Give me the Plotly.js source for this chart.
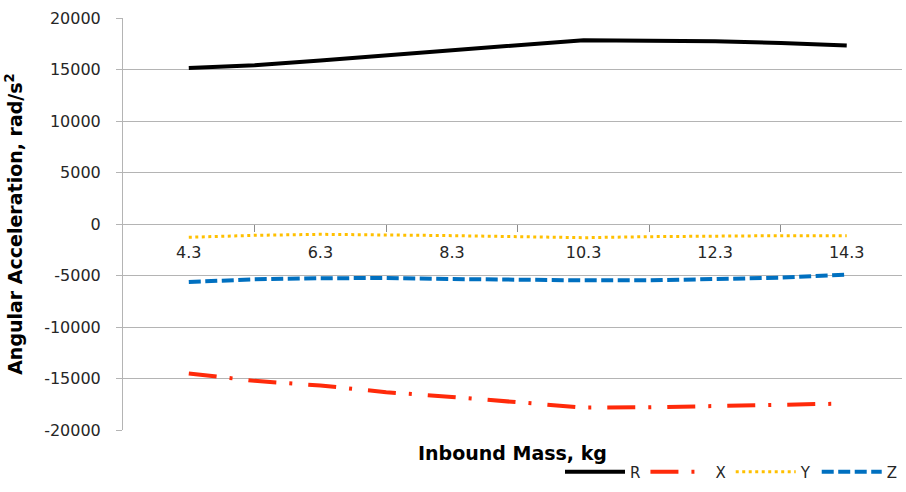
<!DOCTYPE html>
<html>
<head>
<meta charset="utf-8">
<script src="https://cdn.plot.ly/plotly-3.0.1.min.js"></script>
<style>
  html, body { margin: 0; padding: 0; background: #ffffff; }
  #chart { width: 906px; height: 492px; }
</style>
</head>
<body>
<div id="chart"></div>
<script>
// Inbound mass categories (kg)
const massKg = [4.3, 5.3, 6.3, 7.3, 8.3, 9.3, 10.3, 11.3, 12.3, 13.3, 14.3];
// Angular acceleration series (rad/s^2)
const seriesR = [15150, 15420, 15870, 16360, 16870, 17320, 17850, 17780, 17750, 17580, 17330];
const seriesX = [-14510, -15230, -15680, -16330, -16790, -17330, -17820, -17790, -17660, -17500, -17430];
const seriesY = [-1290, -1100, -1000, -1030, -1130, -1230, -1330, -1230, -1165, -1130, -1130];
const seriesZ = [-5630, -5370, -5270, -5240, -5340, -5440, -5470, -5470, -5370, -5210, -4920];
// Axis tick labels
const xLabelVals = [4.3, 6.3, 8.3, 10.3, 12.3, 14.3];
const xTickMarkVals = [5.3, 7.3, 9.3, 11.3, 13.3];
const yTickVals = [20000, 15000, 10000, 5000, 0, -5000, -10000, -15000, -20000];
const yTickText = ["20000", "15000", "10000", "5000", "0", "-5000", "-10000", "-15000", "-20000"];

const FONT = "DejaVu Sans";
const GRID = "#b4b4b4";

const traces = [
  { name: "R", x: massKg, y: seriesR, mode: "lines",
    line: { color: "#000000", width: 4 } },
  { name: "X", x: massKg, y: seriesX, mode: "lines",
    line: { color: "#ff2a0a", width: 4, dash: "28px,13px,3px,16px" } },
  { name: "Y", x: massKg, y: seriesY, mode: "lines",
    line: { color: "#ffc000", width: 3, dash: "3px,3.5px" } },
  { name: "Z", x: massKg, y: seriesZ, mode: "lines",
    line: { color: "#0070c0", width: 4, dash: "12px,4.5px" } }
];

const layout = {
  width: 906, height: 492,
  margin: { l: 123, r: 4, t: 18, b: 62 },
  paper_bgcolor: "#ffffff", plot_bgcolor: "#ffffff",
  font: { family: FONT, size: 16, color: "#262626" },
  showlegend: true,
  legend: { orientation: "h", x: 1.0, xanchor: "right", y: -0.102, yanchor: "middle",
            itemwidth: 60,
            font: { family: FONT, size: 15, color: "#262626" }, traceorder: "normal",
            bgcolor: "rgba(0,0,0,0)" },
  xaxis: {
    range: [3.3, 15.14],
    anchor: "free", position: 0.5,
    tickmode: "array", tickvals: xLabelVals, ticktext: xLabelVals.map(v => v.toFixed(1)),
    ticks: "", ticklabelstandoff: 14,
    showgrid: false, zeroline: false, showline: true, linecolor: GRID, linewidth: 1,
    minor: { tickmode: "array", tickvals: xTickMarkVals, ticks: "outside", ticklen: 7,
             tickcolor: "#8c8c8c", tickwidth: 1, showgrid: false },
    tickfont: { family: FONT, size: 16, color: "#262626" }
  },
  yaxis: {
    range: [-20000, 20000],
    tickmode: "array", tickvals: yTickVals, ticktext: yTickText,
    ticks: "outside", ticklen: 6, tickcolor: GRID, ticklabelstandoff: 12,
    showgrid: true, gridcolor: GRID, gridwidth: 1,
    zeroline: false, showline: true, linecolor: GRID, linewidth: 1,
    tickfont: { family: FONT, size: 16, color: "#262626" },
    title: { text: "<b>Angular Acceleration, rad/s<sup>2</sup></b>", standoff: 16,
             font: { family: FONT, size: 19, color: "#000000" } }
  },
  annotations: [
    { text: "<b>Inbound Mass, kg</b>", xref: "paper", yref: "paper", x: 0.5, y: -0.056,
      xanchor: "center", yanchor: "middle", showarrow: false,
      font: { family: FONT, size: 19, color: "#000000" } }
  ]
};

Plotly.newPlot("chart", traces, layout, { staticPlot: true, displayModeBar: false });
</script>
</body>
</html>
